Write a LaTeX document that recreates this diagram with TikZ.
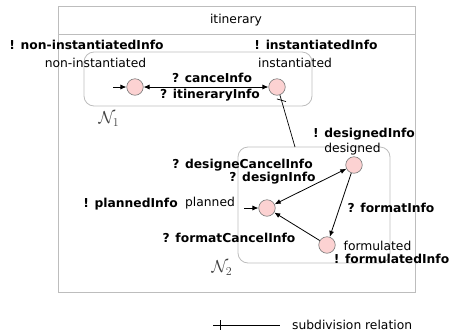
\documentclass[tikz,border=0pt]{standalone}
\usepackage{fontspec}
\setmainfont{DejaVu Sans}
\usetikzlibrary{arrows.meta}
\definecolor{boxgray}{HTML}{BDBDBD}
\definecolor{statefill}{HTML}{FCD2D2}
\definecolor{stateedge}{HTML}{7A7A7A}
\tikzset{
  lbl/.style={font=\fontsize{12.3}{14}\selectfont, inner sep=0pt},
  blbl/.style={font=\fontsize{12.3}{14}\selectfont\bfseries, inner sep=0pt},
  statec/.style={circle, draw=stateedge, fill=statefill, minimum size=16.5pt, inner sep=0pt, line width=0.6pt},
  tr/.style={line width=0.8pt, -{Latex[length=6pt,width=5pt]}},
  trb/.style={line width=0.8pt, {Latex[length=6pt,width=5pt]}-{Latex[length=6pt,width=5pt]}},
  subdiv/.style={line width=0.7pt},
  nlbl/.style={font=\fontsize{17}{19}\selectfont, text=black!75, inner sep=0pt}
}
\begin{document}
\begin{tikzpicture}[x=1pt,y=-1pt]
\useasboundingbox (0,0) rectangle (451,333);
% outer box
\draw[boxgray, line width=0.8pt] (58,6) rectangle (415,292);
\draw[boxgray, line width=0.8pt] (58,34) -- (415,34);
\node[lbl] (itin) at (236,20) {itinerary};
% N1 box
\draw[boxgray, line width=0.8pt, rounded corners=10pt] (84,52) rectangle (312,106);
\node[nlbl] (n1) at (109,119) {$\mathcal{N}_{1}$};
% N2 box
\draw[boxgray, line width=0.8pt, rounded corners=10pt] (238,147) rectangle (390,263);
\node[nlbl] (n2) at (222,268) {$\mathcal{N}_{2}$};
% states N1
\node[statec] (ni) at (135,87) {};
\node[statec] (in) at (277,87) {};
\coordinate (nistart) at (113,87);
\draw[tr] (nistart) -- (ni);
\draw[trb] (ni) -- (in);
\node[blbl] (nii) at (86.5,45) {! non-instantiatedInfo};
\node[lbl] (nil) at (95.5,63) {non-instantiated};
\node[blbl] (ini) at (316,45) {! instantiatedInfo};
\node[lbl] (inl) at (295,63) {instantiated};
\node[blbl] (ci) at (212,78) {? canceInfo};
\node[blbl] (ii) at (210,95) {? itineraryInfo};
% states N2
\node[statec] (de) at (354,165) {};
\node[statec] (pl) at (267,208) {};
\node[statec] (fo) at (327,245) {};
\coordinate (plstart) at (244,208);
\draw[tr] (plstart) -- (pl);
\draw[trb] (pl) -- (de);
\draw[tr] (de) -- (fo);
\draw[tr] (fo) -- (pl);
\node[blbl] (dei) at (364,134) {! designedInfo};
\node[lbl] (del) at (352.5,149) {designed};
\node[blbl] (dci) at (242.5,165) {? designeCancelInfo};
\node[blbl] (dsi) at (272.5,178) {? designInfo};
\node[blbl] (pli) at (130.5,204) {! plannedInfo};
\node[lbl] (pll) at (210,203) {planned};
\node[blbl] (fmi) at (391,208) {? formatInfo};
\node[blbl] (fci) at (229,238) {? formatCancelInfo};
\node[lbl] (fol) at (377.5,246) {formulated};
\node[blbl] (foi) at (391.5,259) {! formulatedInfo};
% subdivision relation
\coordinate (n2top) at (295,147);
\draw[subdiv] (in.290) -- (n2top);
\path (in.290) -- (n2top) coordinate[pos=0.1] (tk);
\draw[subdiv] ([xshift=-4.5pt,yshift=1.3pt]tk) -- ([xshift=4.5pt,yshift=-1.3pt]tk);
% legend
\coordinate (lg1) at (213,325);
\coordinate (lg2) at (280,325);
\draw[subdiv] (lg1) -- (lg2);
\draw[subdiv] (220,320) -- (220,330);
\node[lbl, anchor=west] (lgt) at (292,325) {subdivision relation};
\end{tikzpicture}
\end{document}
